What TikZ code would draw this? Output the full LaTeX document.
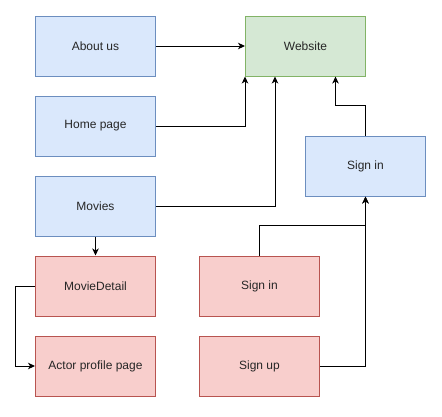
\documentclass[tikz,border=0pt]{standalone}
\usepackage{fontspec}
\setmainfont{Liberation Sans}
\usetikzlibrary{arrows.meta,calc}
\definecolor{bfill}{HTML}{DAE8FC}\definecolor{bline}{HTML}{6C8EBF}
\definecolor{gfill}{HTML}{D5E8D4}\definecolor{gline}{HTML}{82B366}
\definecolor{rfill}{HTML}{F8CECC}\definecolor{rline}{HTML}{B85450}
\begin{document}
\begin{tikzpicture}[x=1pt,y=-1pt,
  box/.style={rectangle,minimum width=120pt,minimum height=60pt,line width=1pt,inner sep=0pt,
    font=\fontsize{12}{14}\selectfont,text=black!85},
  bluebox/.style={box,draw=bline,fill=bfill},
  greenbox/.style={box,draw=gline,fill=gfill},
  redbox/.style={box,draw=rline,fill=rfill},
  conn/.style={line width=1pt,-{Stealth[length=7pt,width=6.5pt,inset=2pt]}},
  plain/.style={line width=1pt}]
\useasboundingbox (0,0) rectangle (442,416);
\node[bluebox] (about) at (95.5,46) {About us};
\node[bluebox] (home) at (95.5,126) {Home page};
\node[bluebox] (movies) at (95.5,206) {Movies};
\node[redbox] (detail) at (95.5,286) {MovieDetail};
\node[redbox] (actor) at (95.5,366) {Actor profile page};
\node[greenbox] (web) at (305.5,46) {Website};
\node[bluebox] (signinb) at (365.5,166) {Sign in};
\node[redbox] (signinr) at (259.5,286) {Sign in};
\node[redbox] (signup) at (259.5,366) {Sign up};
\draw[conn] (about) -- (web);
\draw[conn] (home.east) -| (web.south west);
\draw[conn] (movies.east) -| ([xshift=30pt]web.south west);
\draw[conn] (movies) -- (detail);
\draw[conn] (detail.west) -- ++(-20,0) |- (actor.west);
\draw[conn] (signinb.north) -- ++(0,-30) -| ([xshift=30pt]web.south);
\draw[conn] (signinr.north) -- ++(0,-30) -| (signinb.south);
\draw[conn] (signup.east) -| (signinb.south);
\end{tikzpicture}
\end{document}
